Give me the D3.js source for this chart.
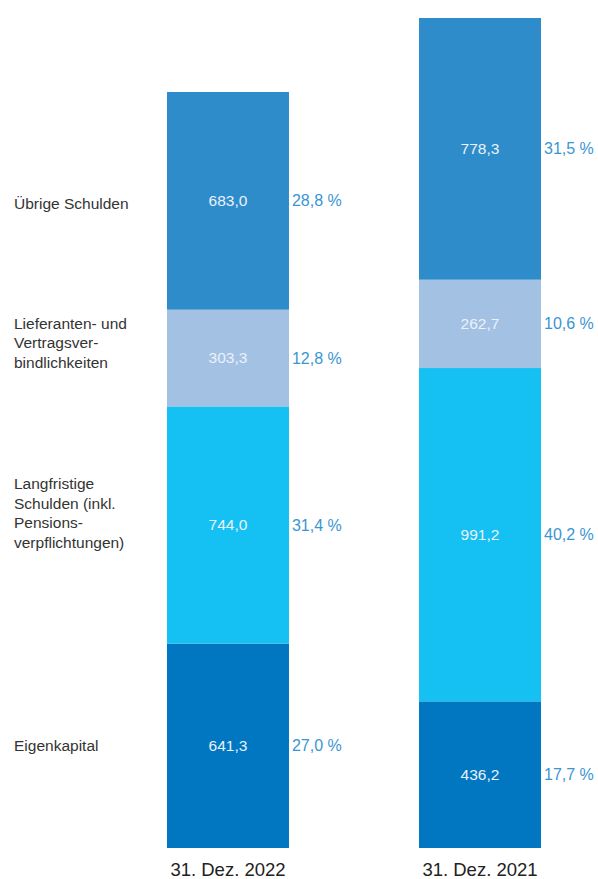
<!DOCTYPE html>
<html>
<head>
<meta charset="utf-8">
<script src="https://cdn.jsdelivr.net/npm/d3@7"></script>
<style>
  body { margin: 0; background: #fff; }
  svg { display: block; font-family: "Liberation Sans", Arial, sans-serif; }
</style>
</head>
<body>
<div class="chart"></div>
<script>
'use strict';

// data
var categories = ['Eigenkapital', 'Langfristige Schulden', 'Lieferanten- und Vertragsverbindlichkeiten', 'Übrige Schulden'];
var categoryLines = [
    ['Eigenkapital'],
    ['Langfristige', 'Schulden (inkl.', 'Pensions-', 'verpflichtungen)'],
    ['Lieferanten- und', 'Vertragsver-', 'bindlichkeiten'],
    ['Übrige Schulden']
];
var periods = ['31. Dez. 2022', '31. Dez. 2021'];
var values2022 = [641.3, 744.0, 303.3, 683.0];
var values2021 = [436.2, 991.2, 262.7, 778.3];
var shares2022 = ['27,0 %', '31,4 %', '12,8 %', '28,8 %'];
var shares2021 = ['17,7 %', '40,2 %', '10,6 %', '31,5 %'];

(function () {

    var width = 598;
    var height = 879;
    var baseY = 848;
    var barTops = [92, 18];          // column heights as printed
    var labelShift = [0, 3, -5, 3];  // nudges for the left-hand labels
    var colors = ['#0077c0', '#15c1f2', '#a3c1e3', '#2f8ccb'];
    var fmt = function (v) { return v.toFixed(1).replace('.', ','); };

    var series = [values2022, values2021];
    var shares = [shares2022, shares2021];

    var svg = d3.select('.chart')
        .append('svg')
        .attr('width', width)
        .attr('height', height);

    var x = d3.scaleBand()
        .domain(periods)
        .range([104, 604])
        .paddingInner(0.516)
        .paddingOuter(0.25);

    var stack = d3.stack().keys(d3.range(categories.length));

    periods.forEach(function (p, pi) {
        var vals = series[pi];
        var total = d3.sum(vals);
        var y = d3.scaleLinear()
            .domain([0, total])
            .range([baseY, barTops[pi]]);

        var layers = stack([vals]);
        var g = svg.append('g');

        layers.forEach(function (layer, i) {
            var d = layer[0];
            var y0 = y(d[0]);
            var y1 = y(d[1]);
            var mid = (y0 + y1) / 2;

            g.append('rect')
                .attr('x', x(p))
                .attr('y', y1)
                .attr('width', x.bandwidth())
                .attr('height', y0 - y1)
                .attr('fill', colors[i]);

            g.append('text')
                .attr('x', x(p) + x.bandwidth() / 2)
                .attr('y', mid)
                .attr('dy', '0.35em')
                .attr('text-anchor', 'middle')
                .attr('fill', '#eaf2fa')
                .style('font-size', '15.5px')
                .text(fmt(vals[i]));

            g.append('text')
                .attr('x', x(p) + x.bandwidth() + 3)
                .attr('y', mid)
                .attr('dy', '0.35em')
                .attr('fill', '#3a95d3')
                .style('font-size', '16px')
                .text(shares[pi][i]);

            // category labels follow the first column
            if (pi === 0) {
                var lines = categoryLines[i];
                var lh = 19.6;
                var cy = mid - 5 * (lines.length - 1) + labelShift[i];
                var t = svg.append('text')
                    .attr('x', 14)
                    .attr('fill', '#333')
                    .style('font-size', '15.5px');
                lines.forEach(function (ln, k) {
                    t.append('tspan')
                        .attr('x', 14)
                        .attr('y', cy + (k - (lines.length - 1) / 2) * lh)
                        .attr('dy', '0.35em')
                        .text(ln);
                });
            }
        });

        svg.append('text')
            .attr('x', x(p) + x.bandwidth() / 2)
            .attr('y', 876)
            .attr('text-anchor', 'middle')
            .attr('fill', '#222')
            .style('font-size', '18.5px')
            .text(p);
    });

})();
</script>
</body>
</html>
